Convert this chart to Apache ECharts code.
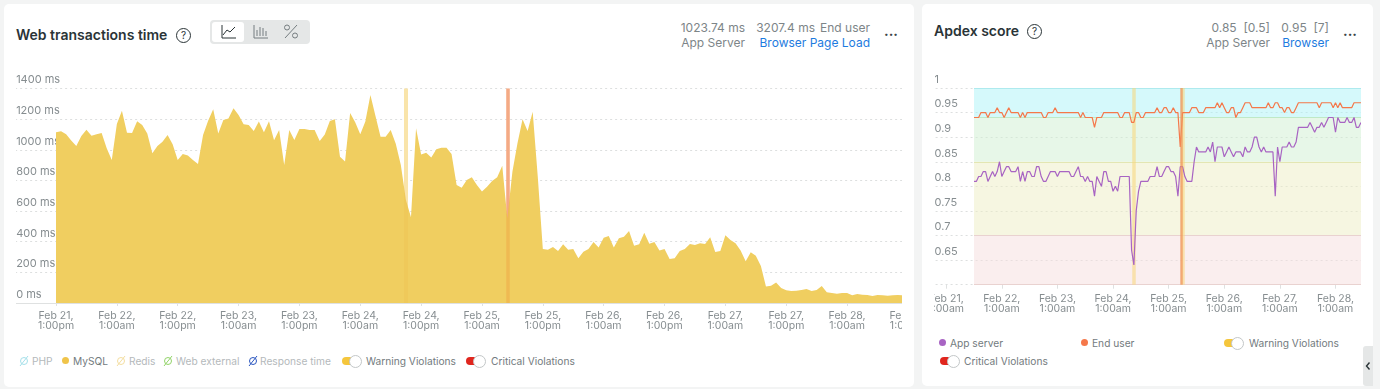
<!DOCTYPE html>
<html>
<head>
<meta charset="utf-8">
<title>Web transactions time / Apdex score</title>
<script src="https://cdn.jsdelivr.net/npm/echarts@6/dist/echarts.min.js"></script>
<style>
  html, body { margin: 0; padding: 0; background: #f3f4f4; width: 1380px; height: 389px; overflow: hidden; }
  body { position: relative; font-family: Inter, "Noto Sans", sans-serif; color: #7d8588; }
  .card { position: absolute; background: #fff; border-radius: 5px; }
  .chart { position: absolute; }
  .t { position: absolute; font-size: 12px; line-height: 15px; white-space: nowrap; }
  .r { text-align: right; }
  .title { font-size: 14px; font-weight: 600; color: #2a3437; line-height: 18px; }
  .link { color: #1d7be0; }
  .more { font-size: 14px; font-weight: 700; color: #3a4447; letter-spacing: 0; }
  .help { position: absolute; width: 13px; height: 13px; border: 1px solid #2a3437; border-radius: 50%;
    font-size: 10px; line-height: 13px; text-align: center; color: #2a3437; }
  .lg { position: absolute; font-size: 10.2px; line-height: 14px; color: #737b7e; white-space: nowrap; }
  .off { color: #b4b9bb; }
  .dot { position: absolute; width: 7px; height: 7px; border-radius: 50%; }
  .pill { position: absolute; width: 12px; height: 8px; border-radius: 4px 0 0 4px; }
  .knob { position: absolute; width: 11px; height: 11px; border: 1px solid #c3c7c8; border-radius: 50%; background: #fff; }
  .icon { position: absolute; }
  .tabs { position: absolute; left: 210px; top: 20px; width: 100px; height: 24px; background: #e5e7e7; border-radius: 4px; }
  .tab { position: absolute; left: 2px; top: 2px; width: 32px; height: 20px; background: #fff; border-radius: 3px; }
  .handle { position: absolute; left: 1363px; top: 346px; width: 10px; height: 40px; background: #e5e7e7; border-radius: 3px 0 0 3px; }
</style>
</head>
<body>
<div class="card" style="left:4px;top:4px;width:910px;height:383px"></div>
<div class="card" style="left:922px;top:4px;width:451px;height:382px"></div>

<div id="webChart" class="chart" style="left:16px;top:60px;width:886px;height:280px"></div>
<div id="apdexChart" class="chart" style="left:934px;top:60px;width:427px;height:270px"></div>

<div class="t title" style="left:16px;top:26px">Web transactions time</div>
<div class="help" style="left:176px;top:28px">?</div>
<div class="tabs">
  <div class="tab"></div>
  <svg class="icon" style="left:0;top:0" width="100" height="24" fill="none" stroke-width="1">
    <path d="M12 5v13h14M13 15l4-5 3 2 5-5" stroke="#2a3437"/>
    <path d="M44 5v13h14M47 16v-6M50 16V7M53 16v-8M56 16v-5" stroke="#757d80"/>
    <path d="M87 5L75 18" stroke="#757d80"/><circle cx="77" cy="7.5" r="2.5" stroke="#757d80"/><circle cx="85" cy="15.5" r="2.5" stroke="#757d80"/>
  </svg>
</div>
<div class="t r" style="left:665px;width:80px;top:20px">1023.74 ms</div>
<div class="t r" style="left:665px;width:80px;top:35px">App Server</div>
<div class="t r" style="left:735px;width:80px;top:20px">3207.4 ms</div>
<div class="t r" style="left:810px;width:60px;top:20px">End user</div>
<div class="t r link" style="left:740px;width:130px;top:35px">Browser Page Load</div>
<div class="t more" style="left:884px;top:23px">...</div>

<div class="t title" style="left:934px;top:22px">Apdex score</div>
<div class="help" style="left:1027px;top:24px">?</div>
<div class="t r" style="left:1190px;width:80px;top:20px">0.85&nbsp; [0.5]</div>
<div class="t r" style="left:1190px;width:80px;top:35px">App Server</div>
<div class="t r" style="left:1259px;width:70px;top:20px">0.95&nbsp; [7]</div>
<div class="t r link" style="left:1259px;width:70px;top:35px">Browser</div>
<div class="t more" style="left:1343px;top:23px">...</div>
<div class="handle">
  <svg class="icon" style="left:2px;top:15px" width="6" height="10" fill="none"><path d="M4.5 1.5L1.5 5l3 3.5" stroke="#2a3437" stroke-width="1.4"/></svg>
</div>

<!-- left legend -->
<svg class="icon" style="left:0;top:350px" width="260" height="22" fill="none">
  <g stroke="#a5e0ea"><circle cx="24" cy="11" r="3.5"/><path d="M20 16l8-10"/></g>
  <g stroke="#f4deA0"><circle cx="121" cy="11" r="3.5"/><path d="M117 16l8-10"/></g>
  <g stroke="#93d46a"><circle cx="168" cy="11" r="3.5"/><path d="M164 16l8-10"/></g>
  <g stroke="#2a56c0"><circle cx="253" cy="11" r="3.5"/><path d="M249 16l8-10"/></g>
</svg>
<div class="lg off" style="left:32px;top:354px">PHP</div>
<div class="dot" style="left:62px;top:357px;background:#f0c44a"></div>
<div class="lg" style="left:73px;top:354px">MySQL</div>
<div class="lg off" style="left:129px;top:354px">Redis</div>
<div class="lg off" style="left:176px;top:354px">Web external</div>
<div class="lg off" style="left:260px;top:354px">Response time</div>
<div class="pill" style="left:342px;top:357px;background:#f5c63c"></div>
<div class="knob" style="left:349px;top:355px"></div>
<div class="lg" style="left:366px;top:354px">Warning Violations</div>
<div class="pill" style="left:466px;top:357px;background:#e0261e"></div>
<div class="knob" style="left:473px;top:355px"></div>
<div class="lg" style="left:491px;top:354px">Critical Violations</div>

<!-- right legend -->
<div class="dot" style="left:939px;top:339px;background:#a864c3"></div>
<div class="lg" style="left:950px;top:336px">App server</div>
<div class="dot" style="left:1081px;top:339px;background:#f5784a"></div>
<div class="lg" style="left:1092px;top:336px">End user</div>
<div class="pill" style="left:1224px;top:339px;background:#f5c63c"></div>
<div class="knob" style="left:1231px;top:337px"></div>
<div class="lg" style="left:1249px;top:336px">Warning Violations</div>
<div class="pill" style="left:940px;top:357px;background:#e0261e"></div>
<div class="knob" style="left:947px;top:355px"></div>
<div class="lg" style="left:964px;top:354px">Critical Violations</div>

<script>
// hourly samples, Feb 21 1pm -> Feb 28 noon
const webMs = [
  1114, 1121, 1101, 1060, 1025, 1090, 1131, 1092, 1101, 1110, 1010, 933,
  1168, 1255, 1112, 1110, 1186, 1162, 1107, 977, 1025, 1053, 1097, 1036,
  933, 973, 962, 933, 907, 1097, 1190, 1264, 1107, 1195, 1205, 1271,
  1227, 1166, 1162, 1123, 1184, 1114, 1186, 1062, 1129, 901, 1129, 1064,
  1136, 1136, 1129, 1129, 1058, 1100, 1188, 1200, 955, 923, 1240, 1180,
  1102, 1184, 1358, 1220, 1085, 1085, 1129, 1040, 901, 672, 559, 1140,
  970, 981, 949, 1003, 1014, 1014, 973, 770, 753, 803, 820, 770,
  727, 759, 796, 820, 896, 553, 857, 1042, 1199, 1123, 1249, 825,
  352, 348, 366, 339, 383, 348, 352, 292, 335, 352, 398, 363,
  426, 437, 363, 422, 433, 470, 374, 383, 459, 387, 398, 342,
  352, 287, 292, 339, 352, 385, 379, 390, 385, 429, 333, 339,
  442, 411, 390, 342, 272, 331, 309, 242, 107, 113, 133, 98,
  83, 78, 80, 85, 91, 78, 85, 111, 70, 65, 61, 65,
  65, 50, 59, 54, 52, 46, 52, 50, 48, 50, 52, 50
]
const appServer = [
  .81, .81, .82, .82, .83, .83, .81, .82, .83, .82,
  .83, .85, .82, .83, .84, .84, .83, .83, .83, .84,
  .81, .83, .81, .83, .83, .82, .82, .84, .84, .82,
  .81, .81, .82, .83, .83, .83, .82, .83, .83, .83,
  .83, .83, .82, .82, .83, .84, .82, .82, .81, .82,
  .81, .81, .78, .82, .81, .80, .83, .83, .81, .81,
  .79, .80, .79, .82, .82, .82, .82, .82, .67, .64,
  .75, .79, .81, .81, .81, .81, .82, .82, .82, .84,
  .82, .82, .83, .84, .84, .83, .83, .82, .78, .84,
  .84, .82, .81, .81, .81, .85, .88, .87, .87, .87,
  .87, .88, .87, .89, .85, .88, .88, .88, .86, .87,
  .88, .87, .86, .87, .87, .87, .86, .88, .87, .87,
  .88, .90, .90, .88, .87, .88, .87, .87, .87, .87,
  .78, .88, .85, .88, .88, .88, .89, .88, .88, .89,
  .92, .92, .92, .92, .92, .93, .92, .91, .92, .92,
  .93, .92, .93, .94, .94, .94, .91, .94, .93, .93,
  .93, .94, .93, .93, .94, .92, .92, .93
]
const endUser = [
  .94, .94, .94, .95, .95, .95, .94, .95, .95, .95,
  .96, .95, .95, .94, .95, .96, .95, .95, .95, .95,
  .94, .95, .94, .95, .95, .95, .95, .95, .95, .95,
  .94, .94, .95, .95, .95, .96, .95, .95, .95, .95,
  .95, .95, .95, .95, .95, .95, .94, .95, .94, .94,
  .94, .94, .92, .94, .94, .94, .95, .95, .95, .95,
  .95, .95, .95, .94, .94, .95, .95, .95, .93, .93,
  .95, .95, .94, .94, .95, .95, .95, .95, .95, .96,
  .95, .95, .96, .96, .95, .95, .96, .95, .95, .88,
  .95, .95, .95, .95, .96, .96, .96, .95, .95, .95,
  .96, .96, .96, .96, .96, .97, .96, .97, .96, .95,
  .95, .96, .96, .94, .95, .95, .96, .97, .97, .97,
  .96, .96, .96, .96, .96, .96, .96, .97, .96, .96,
  .97, .97, .96, .96, .95, .96, .96, .95, .95, .96,
  .97, .97, .97, .97, .97, .97, .97, .97, .97, .96,
  .97, .97, .97, .97, .97, .96, .97, .96, .97, .96,
  .96, .96, .96, .96, .97, .97, .97, .97
]
const webXLabels = [
  'Feb 21,\n1:00pm', 'Feb 22,\n1:00am', 'Feb 22,\n1:00pm', 'Feb 23,\n1:00am', 'Feb 23,\n1:00pm',
  'Feb 24,\n1:00am', 'Feb 24,\n1:00pm', 'Feb 25,\n1:00am', 'Feb 25,\n1:00pm', 'Feb 26,\n1:00am',
  'Feb 26,\n1:00pm', 'Feb 27,\n1:00am', 'Feb 27,\n1:00pm', 'Feb 28,\n1:00am', 'Feb 28,\n1:00pm'
]
const apdexXLabels = [
  'Feb 21,\n1:00am', 'Feb 22,\n1:00am', 'Feb 23,\n1:00am', 'Feb 24,\n1:00am',
  'Feb 25,\n1:00am', 'Feb 26,\n1:00am', 'Feb 27,\n1:00am', 'Feb 28,\n1:00am'
]
const warningHours = [69]
const criticalHours = [89]
const apdexWarningHours = [69, 90.1]
const apdexCriticalHours = [89.4]
// apdex x axis starts at Feb 21 1am, first sample is 12h later
const apdexOffset = 12
const apdexZones = [
  { from: 1, to: 0.94, fill: 'rgba(171,243,247,.5)', edge: '#aeeaee' },
  { from: 0.94, to: 0.85, fill: 'rgba(207,239,209,.5)', edge: '#bfe9c6' },
  { from: 0.85, to: 0.7, fill: 'rgba(237,237,195,.5)', edge: '#e3e6b2' },
  { from: 0.7, to: 0.6, fill: 'rgba(245,221,221,.5)', edge: '#e9d2d0' }
]

const textColor = '#868d90'
const gridLine = { show: true, lineStyle: { color: '#dddfdf', type: [2, 3], width: 1 } }
const violationLines = (hours, color, z, width) => ({
  type: 'line', data: [], z, silent: true, animation: false,
  markLine: {
    z, // markLine has its own z, default would put it over the area
    silent: true, animation: false, symbol: 'none', label: { show: false },
    lineStyle: { color, width, type: 'solid', cap: 'butt' },
    data: hours.map(h => ({ xAxis: h }))
  }
})

const webChart = echarts.init(document.getElementById('webChart'))
webChart.setOption({
  animation: false,
  // grid runs past the canvas on purpose, first and last tick get clipped like the original
  grid: { left: -20.85, top: 28.5, width: 912.8, height: 214.5, outerBoundsMode: 'none' },
  xAxis: {
    type: 'value', min: -12, max: 168, interval: 12,
    splitLine: { show: false },
    axisLine: { lineStyle: { color: '#dfe1e1' } },
    axisTick: { length: 3, lineStyle: { color: '#dfe1e1' } },
    axisLabel: {
      color: textColor, fontFamily: 'Inter', fontSize: 10.5, lineHeight: 10, margin: 8,
      showMinLabel: true, showMaxLabel: true,
      formatter: v => webXLabels[v / 12] || ''
    }
  },
  yAxis: {
    type: 'value', min: 0, max: 1400, interval: 200,
    axisLine: { show: false }, axisTick: { show: false },
    splitLine: gridLine,
    axisLabel: {
      inside: true, margin: 21, color: textColor, fontFamily: 'Inter', fontSize: 11,
      verticalAlign: 'bottom', padding: [0, 0, 3, 0],
      formatter: v => v + ' ms'
    }
  },
  series: [
    // pale part sits behind the area, the tint on top only shows faintly over it
    violationLines(warningHours, '#fdefc4', 1, 4),
    violationLines(criticalHours, '#f7b8a9', 1, 3.5),
    {
      type: 'line', name: 'MySQL', z: 2, symbol: 'none',
      data: webMs.map((v, i) => [i, v]),
      lineStyle: { width: 0 },
      areaStyle: { color: '#f0ce60', opacity: 1 }
    },
    violationLines(warningHours, 'rgba(235,185,70,.2)', 3, 4),
    violationLines(criticalHours, 'rgba(238,140,50,.3)', 4, 3.5)
  ]
})

const apdexChart = echarts.init(document.getElementById('apdexChart'))
apdexChart.setOption({
  animation: false,
  grid: { left: -43.4, top: 28, width: 500.5, height: 196.7, outerBoundsMode: 'none' },
  xAxis: {
    type: 'value', min: -24, max: 192, interval: 24,
    splitLine: { show: false },
    axisLine: { show: false },
    axisTick: { length: 4, lineStyle: { color: '#dfe1e1' } },
    axisLabel: {
      color: textColor, fontFamily: 'Inter', fontSize: 10.5, lineHeight: 10, margin: 9,
      formatter: v => apdexXLabels[v / 24] || ''
    }
  },
  yAxis: {
    type: 'value', min: 0.6, max: 1, interval: 0.05,
    axisLine: { show: false }, axisTick: { show: false },
    splitLine: gridLine,
    axisLabel: {
      inside: true, margin: 44, color: textColor, fontFamily: 'Inter', fontSize: 11,
      verticalAlign: 'bottom', padding: [0, 0, 3, 0], showMinLabel: false,
      formatter: v => String(+v.toFixed(2))
    }
  },
  series: [
    {
      type: 'line', data: [], z: 1, silent: true,
      markArea: {
        silent: true, animation: false,
        data: apdexZones.map(b => [
          { xAxis: apdexOffset, yAxis: b.from, itemStyle: { color: b.fill } },
          { xAxis: apdexOffset + 167, yAxis: b.to }
        ])
      },
      markLine: {
        z: 1, silent: true, animation: false, symbol: 'none', label: { show: false },
        data: apdexZones.flatMap(b => [b.from, b.to].map(y => [
          { xAxis: apdexOffset, yAxis: y, lineStyle: { color: b.edge, type: 'solid', width: 1 } },
          { xAxis: apdexOffset + 167, yAxis: y }
        ]))
      }
    },
    violationLines(apdexWarningHours.map(h => h + apdexOffset), 'rgba(250,215,120,.55)', 2, 3.5),
    {
      type: 'line', name: 'App server', z: 3, symbol: 'none',
      data: appServer.map((v, i) => [i + apdexOffset, v]),
      lineStyle: { color: '#a864c3', width: 1.2 }
    },
    {
      type: 'line', name: 'End user', z: 3, symbol: 'none',
      data: endUser.map((v, i) => [i + apdexOffset, v]),
      lineStyle: { color: '#f5784a', width: 1.2 }
    },
    violationLines(apdexCriticalHours.map(h => h + apdexOffset), 'rgba(240,150,90,.75)', 4, 2.5)
  ]
})
</script>
</body>
</html>
